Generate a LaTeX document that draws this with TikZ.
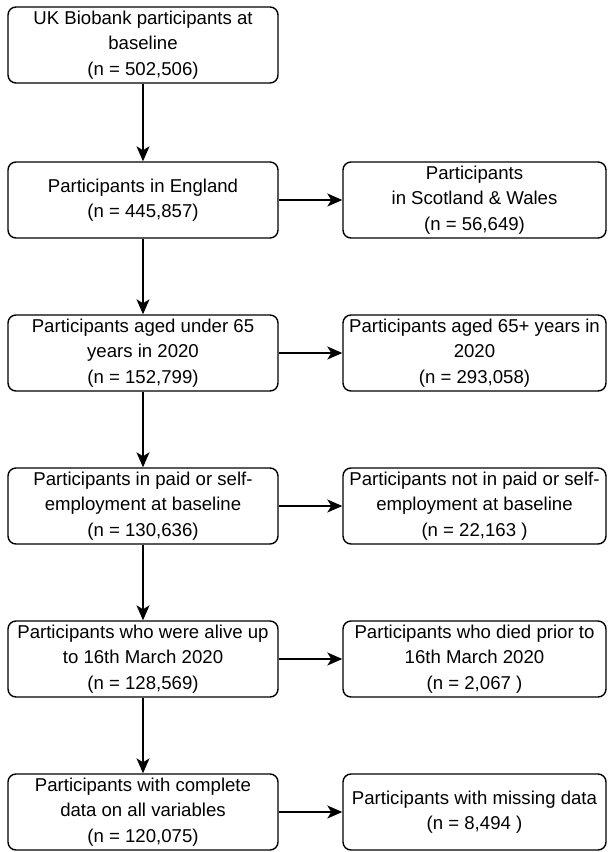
\documentclass[tikz,border=0pt]{standalone}
\usepackage{fontspec}
\setmainfont{Liberation Sans}
\usetikzlibrary{arrows.meta}
\begin{document}
\begin{tikzpicture}[x=1pt,y=-1pt,
  box/.style={draw, line width=1.4pt, rounded corners=8pt, minimum height=76pt,
    align=center, font=\fontsize{18.6}{25.5}\selectfont, inner sep=0pt},
  lbox/.style={box, minimum width=270pt},
  rbox/.style={box, minimum width=263pt},
  arr/.style={line width=1.4pt, -{Stealth[length=15pt,width=13pt,inset=4pt]}}]
\useasboundingbox (0,0) rectangle (608,852);
\node[lbox] (l1) at (143,45) {UK Biobank participants at\\baseline\\(n = 502,506)};
\node[lbox] (l2) at (143,200) {Participants in England\\(n = 445,857)};
\node[lbox] (l3) at (143,353) {Participants aged under 65\\years in 2020\\(n = 152,799)};
\node[lbox] (l4) at (143,506) {Participants in paid or self-\\employment at baseline\\(n = 130,636)};
\node[lbox] (l5) at (143,659) {Participants who were alive up\\to 16th March 2020\\(n = 128,569)};
\node[lbox] (l6) at (143,812) {Participants with complete\\data on all variables\\(n = 120,075)};
\node[rbox] (r2) at (474.5,200) {Participants\\in Scotland \& Wales\\(n = 56,649)};
\node[rbox] (r3) at (474.5,353) {Participants aged 65+ years in\\2020\\(n = 293,058)};
\node[rbox] (r4) at (474.5,506) {Participants not in paid or self-\\employment at baseline\\(n = 22,163 )};
\node[rbox] (r5) at (474.5,659) {Participants who died prior to\\16th March 2020\\(n = 2,067 )};
\node[rbox] (r6) at (474.5,812) {Participants with missing data\\(n = 8,494 )};
\draw[arr] (l1) -- (l2);
\draw[arr] (l2) -- (l3);
\draw[arr] (l3) -- (l4);
\draw[arr] (l4) -- (l5);
\draw[arr] (l5) -- (l6);
\draw[arr] (l2) -- (r2);
\draw[arr] (l3) -- (r3);
\draw[arr] (l4) -- (r4);
\draw[arr] (l5) -- (r5);
\draw[arr] (l6) -- (r6);
\end{tikzpicture}
\end{document}
